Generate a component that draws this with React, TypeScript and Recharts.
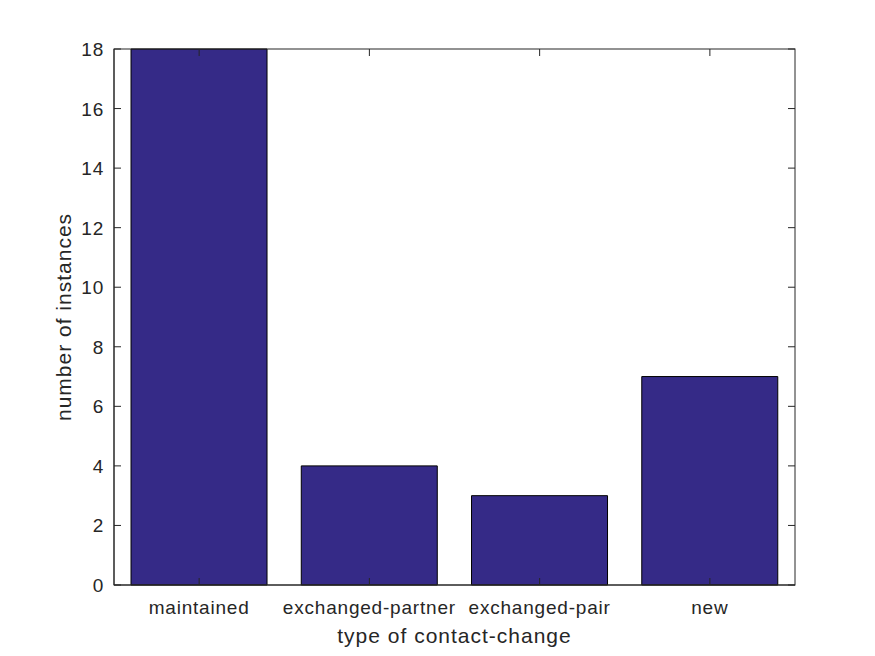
import React from 'react';
import { BarChart, Bar, XAxis, YAxis } from 'recharts';

const categories = ['maintained', 'exchanged-partner', 'exchanged-pair', 'new'];
const counts = [18, 4, 3, 7];
const yTicks = [0, 2, 4, 6, 8, 10, 12, 14, 16, 18];

const data = categories.map((name, i) => ({ name, count: counts[i] }));

const W = 875;
const H = 656;
const LEFT = 114;
const RIGHT = 795;
const TOP = 49;
const BOTTOM = 585;
const TICK = 7;
const INK = '#262626';
const FONT = '"Liberation Sans", Arial, Helvetica, sans-serif';

const YTick = (props: any) => {
  const { x, y, payload } = props;
  return (
    <g>
      {payload.value === 0 && (
        <rect x={LEFT} y={TOP} width={RIGHT - LEFT} height={BOTTOM - TOP} fill="none" stroke={INK} />
      )}
      <line x1={LEFT} x2={LEFT + TICK} y1={y} y2={y} stroke={INK} />
      <line x1={RIGHT - TICK} x2={RIGHT} y1={y} y2={y} stroke={INK} />
      <text x={x} y={y} dy={7} textAnchor="end" fill={INK} fontSize={19} fontFamily={FONT} letterSpacing={0.8}>
        {payload.value}
      </text>
    </g>
  );
};

const XTick = (props: any) => {
  const { x, payload } = props;
  return (
    <g>
      <line x1={x} x2={x} y1={BOTTOM} y2={BOTTOM - TICK} stroke={INK} />
      <line x1={x} x2={x} y1={TOP} y2={TOP + TICK} stroke={INK} />
      <text x={x} y={BOTTOM + 29} textAnchor="middle" fill={INK} fontSize={19} fontFamily={FONT} letterSpacing={0.8}>
        {payload.value}
      </text>
    </g>
  );
};

const XLabel = ({ viewBox }: any) => (
  <text
    x={viewBox.x + viewBox.width / 2}
    y={643}
    textAnchor="middle"
    fill={INK}
    fontSize={21}
    fontFamily={FONT}
    letterSpacing={1}
  >
    type of contact-change
  </text>
);

const YLabel = ({ viewBox }: any) => {
  const cx = 63;
  const cy = viewBox.y + viewBox.height / 2;
  return (
    <text
      x={cx}
      y={cy}
      transform={`rotate(-90 ${cx} ${cy})`}
      textAnchor="middle"
      dominantBaseline="central"
      fill={INK}
      fontSize={21}
      fontFamily={FONT}
      letterSpacing={1}
    >
      number of instances
    </text>
  );
};

export default function App() {
  return (
    <div style={{ position: 'absolute', left: 0, top: 0, width: W, height: H, background: '#fff' }}>
      <BarChart
        width={W}
        height={H}
        data={data}
        margin={{ top: TOP, right: W - RIGHT, left: LEFT - 50, bottom: H - BOTTOM - 40 }}
        barCategoryGap="10%"
      >
        <XAxis
          dataKey="name"
          height={40}
          axisLine={{ stroke: INK }}
          tickLine={false}
          tickSize={0}
          tick={<XTick />}
          interval={0}
          label={<XLabel />}
        />
        <YAxis
          width={50}
          domain={[0, 18]}
          ticks={yTicks}
          axisLine={{ stroke: INK }}
          tickLine={false}
          tickSize={0}
          tickMargin={10}
          tick={<YTick />}
          label={<YLabel />}
        />
        <Bar dataKey="count" fill="#352a87" stroke="#000" strokeWidth={1} isAnimationActive={false} />
      </BarChart>
    </div>
  );
}
